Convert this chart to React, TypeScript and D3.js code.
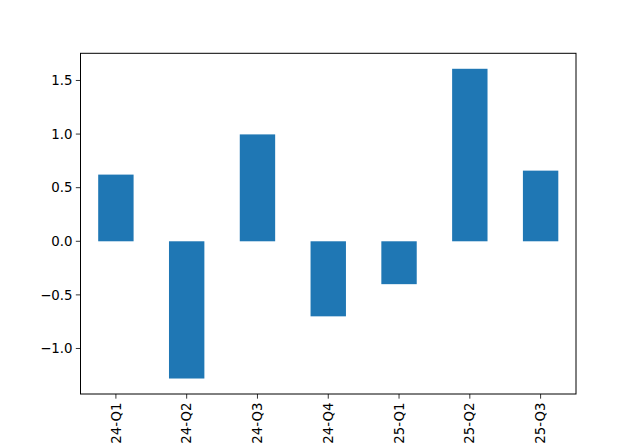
import React from "react";
import * as d3 from "d3";

const categories = ["2024-Q1", "2024-Q2", "2024-Q3", "2024-Q4", "2025-Q1", "2025-Q2", "2025-Q3"];
const values = [0.622, -1.28, 0.997, -0.70, -0.40, 1.609, 0.659];
const yTicks = [-1.0, -0.5, 0.0, 0.5, 1.0, 1.5];

const W = 640, H = 443;
const L = 80.5, R = 576, T = 53.3, B = 394;

export default function App() {
  const x = d3.scaleLinear().domain([-0.5, categories.length - 0.5]).range([L, R]);
  const vmin = d3.min(values)!, vmax = d3.max(values)!;
  const pad = (vmax - vmin) * 0.05;
  const y = d3.scaleLinear().domain([vmin - pad, vmax + pad]).range([B, T]);
  const fmt = (v: number) => (v < 0 ? "\u2212" + Math.abs(v).toFixed(1) : v.toFixed(1));
  const font = "DejaVu Sans, sans-serif";
  return (
    <svg width={W} height={H} style={{ position: "absolute", left: 0, top: 0, background: "#fff" }}>
      <rect x={0} y={0} width={W} height={H} fill="#fff" />
      {values.map((v, i) => (
        <rect key={i} x={x(i - 0.25)} width={x(i + 0.25) - x(i - 0.25)}
          y={y(Math.max(0, v))} height={Math.abs(y(v) - y(0))} fill="#1f77b4" />
      ))}
      <rect x={L} y={T} width={R - L} height={B - T} fill="none" stroke="#000" strokeWidth={1} />
      {yTicks.map((t) => (
        <g key={t}>
          <line x1={L - 4.67} x2={L} y1={y(t)} y2={y(t)} stroke="#000" strokeWidth={0.8} />
          <text x={L - 8} y={y(t)} dy="0.35em" textAnchor="end" fontSize={13.33} fontFamily={font} fill="#000">{fmt(t)}</text>
        </g>
      ))}
      {categories.map((c, i) => (
        <g key={c}>
          <line x1={x(i)} x2={x(i)} y1={B} y2={B + 4.67} stroke="#000" strokeWidth={0.8} />
          <text transform={`translate(${x(i)},${B + 8.5}) rotate(-90)`} dy="0.35em" textAnchor="end"
            fontSize={13.33} fontFamily={font} fill="#000">{c}</text>
        </g>
      ))}
    </svg>
  );
}
